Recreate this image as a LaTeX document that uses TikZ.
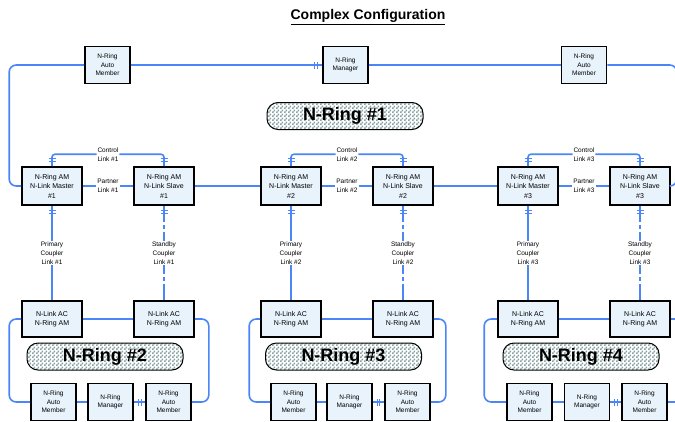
\documentclass[tikz,border=0pt]{standalone}
\usepackage{fontspec}
\setmainfont{Liberation Sans}
\usetikzlibrary{patterns}
\pgfdeclarepatternformonly{chk}{\pgfpointorigin}{\pgfqpoint{4pt}{4pt}}{\pgfqpoint{4pt}{4pt}}{%
  \pgfpathrectangle{\pgfpointorigin}{\pgfqpoint{2pt}{2pt}}%
  \pgfpathrectangle{\pgfqpoint{2pt}{2pt}}{\pgfqpoint{2pt}{2pt}}%
  \pgfusepath{fill}}
\definecolor{lnk}{HTML}{4A86F7}
\definecolor{boxfill}{HTML}{E8F3FC}
\definecolor{chkc}{HTML}{8AA2A2}
\tikzset{
  dev/.style={draw=black, line width=1.6pt, fill=boxfill, inner sep=0pt, align=center,
    font=\fontsize{6.5}{8.5}\selectfont},
  smallbox/.style={dev, minimum width=45pt, minimum height=37pt},
  ambox/.style={dev, minimum width=60pt, minimum height=38pt, font=\fontsize{7}{9.5}\selectfont},
  acbox/.style={dev, minimum width=60pt, minimum height=36pt, font=\fontsize{7}{9.5}\selectfont},
  pill/.style={draw=black, line width=1pt, rounded corners=11pt, minimum width=156pt,
    minimum height=27pt, preaction={fill=white}, pattern=chk, pattern color=chkc,
    font=\bfseries\fontsize{18}{18}\selectfont},
  lk/.style={draw=lnk, line width=1.6pt},
  sb/.style={lk, dash pattern=on 16pt off 3pt on 4pt off 3pt},
  lbl/.style={fill=white, inner sep=1pt, align=center, font=\fontsize{6.5}{9}\selectfont},
  tk/.style={draw=lnk, line width=1.1pt}
}
\begin{document}
\begin{tikzpicture}[x=1pt,y=-1pt]
\useasboundingbox (0,0) rectangle (675,421);
% title
\node[font=\bfseries\fontsize{14}{14}\selectfont] (title) at (368,17) {\underline{Complex Configuration}};
% top ring
\node[smallbox] (ta1) at (107.5,65) {N-Ring\\Auto\\Member};
\node[smallbox] (tm) at (345.5,65) {N-Ring\\Manager};
\node[smallbox] (ta2) at (584,65) {N-Ring\\Auto\\Member};
\node[pill] (p1) at (345,116) {N-Ring \#1};
% AM row
\node[ambox] (m1) at (52,186) {N-Ring AM\\N-Link Master\\\#1};
\node[ambox] (s1) at (164,186) {N-Ring AM\\N-Link Slave\\\#1};
\node[ambox] (m2) at (291,186) {N-Ring AM\\N-Link Master\\\#2};
\node[ambox] (s2) at (403,186) {N-Ring AM\\N-Link Slave\\\#2};
\node[ambox] (m3) at (528,186) {N-Ring AM\\N-Link Master\\\#3};
\node[ambox] (s3) at (640,186) {N-Ring AM\\N-Link Slave\\\#3};
% AC row
\node[acbox] (a1) at (52,319) {N-Link AC\\N-Ring AM};
\node[acbox] (b1) at (164,319) {N-Link AC\\N-Ring AM};
\node[acbox] (a2) at (291,319) {N-Link AC\\N-Ring AM};
\node[acbox] (b2) at (403,319) {N-Link AC\\N-Ring AM};
\node[acbox] (a3) at (528,319) {N-Link AC\\N-Ring AM};
\node[acbox] (b3) at (640,319) {N-Link AC\\N-Ring AM};
% pills
\node[pill] (p2) at (105,356.5) {N-Ring \#2};
\node[pill] (p3) at (343.5,356.5) {N-Ring \#3};
\node[pill] (p4) at (581,356.5) {N-Ring \#4};
% bottom rows
\node[smallbox] (x1) at (53.5,402) {N-Ring\\Auto\\Member};
\node[smallbox] (y1) at (110.5,402) {N-Ring\\Manager};
\node[smallbox] (z1) at (168.5,402) {N-Ring\\Auto\\Member};
\node[smallbox] (x2) at (293.5,402) {N-Ring\\Auto\\Member};
\node[smallbox] (y2) at (349.5,402) {N-Ring\\Manager};
\node[smallbox] (z2) at (407.5,402) {N-Ring\\Auto\\Member};
\node[smallbox] (x3) at (529.5,402) {N-Ring\\Auto\\Member};
\node[smallbox] (y3) at (587,402) {N-Ring\\Manager};
\node[smallbox] (z3) at (644.5,402) {N-Ring\\Auto\\Member};
\coordinate (e1) at (685,319);
\coordinate (e2) at (685,402);
% top ring connectors
\draw[lk, rounded corners=7pt] (m1.west) -- ++(-12,0) |- (ta1.west);
\draw[lk] (ta1.east) -- (tm.west);
\draw[lk] (tm.east) -- (ta2.west);
\draw[lk, rounded corners=7pt] (ta2.east) -| ([xshift=6pt]s3.east) -- (s3.east);
\draw[tk] ([xshift=-8pt,yshift=-3.5pt]tm.west) -- ++(0,7pt);
\draw[tk] ([xshift=-5pt,yshift=-3.5pt]tm.west) -- ++(0,7pt);
% partner links and inter-pair links
\draw[lk] (m1.east) -- node[lbl]{Partner\\Link \#1} (s1.west);
\draw[lk] (s1.east) -- (m2.west);
\draw[lk] (m2.east) -- node[lbl]{Partner\\Link \#2} (s2.west);
\draw[lk] (s2.east) -- (m3.west);
\draw[lk] (m3.east) -- node[lbl]{Partner\\Link \#3} (s3.west);
% control links
\draw[lk, rounded corners=3pt] (m1.north) -- ++(0,-12) -| node[pos=0.25,lbl]{Control\\Link \#1} (s1.north);
\draw[lk, rounded corners=3pt] (m2.north) -- ++(0,-12) -| node[pos=0.25,lbl]{Control\\Link \#2} (s2.north);
\draw[lk, rounded corners=3pt] (m3.north) -- ++(0,-12) -| node[pos=0.25,lbl]{Control\\Link \#3} (s3.north);
% coupler links
\draw[lk] (m1.south) -- node[lbl]{Primary\\Coupler\\Link \#1} (a1.north);
\draw[sb] (s1.south) -- node[lbl]{Standby\\Coupler\\Link \#1} (b1.north);
\draw[lk] (m2.south) -- node[lbl]{Primary\\Coupler\\Link \#2} (a2.north);
\draw[sb] (s2.south) -- node[lbl]{Standby\\Coupler\\Link \#2} (b2.north);
\draw[lk] (m3.south) -- node[lbl]{Primary\\Coupler\\Link \#3} (a3.north);
\draw[sb] (s3.south) -- node[lbl]{Standby\\Coupler\\Link \#3} (b3.north);
% ticks above and below AM boxes
\foreach \n in {m1,s1,m2,s2,m3,s3}{
  \draw[tk] ([xshift=-3.5pt,yshift=4.5pt]\n.north) -- ++(7pt,0);
  \draw[tk] ([xshift=-3.5pt,yshift=7.5pt]\n.north) -- ++(7pt,0);
  \draw[tk] ([xshift=-3.5pt,yshift=-4.5pt]\n.south) -- ++(7pt,0);
  \draw[tk] ([xshift=-3.5pt,yshift=-7.5pt]\n.south) -- ++(7pt,0);
}
% ring 2
\draw[lk, rounded corners=7pt] (a1.west) -- ++(-12,0) |- (x1.west);
\draw[lk] (a1.east) -- (b1.west);
\draw[lk, rounded corners=7pt] (b1.east) -- ++(14,0) |- (z1.east);
\draw[lk] (x1.east) -- (y1.west);
\draw[lk] (y1.east) -- (z1.west);
\draw[tk] ([xshift=5pt,yshift=-3.5pt]y1.east) -- ++(0,7pt);
\draw[tk] ([xshift=8pt,yshift=-3.5pt]y1.east) -- ++(0,7pt);
% ring 3
\draw[lk, rounded corners=7pt] (a2.west) -- ++(-11,0) |- (x2.west);
\draw[lk] (a2.east) -- (b2.west);
\draw[lk, rounded corners=7pt] (b2.east) -- ++(12,0) |- (z2.east);
\draw[lk] (x2.east) -- (y2.west);
\draw[lk] (y2.east) -- (z2.west);
\draw[tk] ([xshift=5pt,yshift=-3.5pt]y2.east) -- ++(0,7pt);
\draw[tk] ([xshift=7pt,yshift=-3.5pt]y2.east) -- ++(0,7pt);
% ring 4
\draw[lk, rounded corners=7pt] (a3.west) -- ++(-13,0) |- (x3.west);
\draw[lk] (a3.east) -- (b3.west);
\draw[lk] (b3.east) -- (e1);
\draw[lk] (x3.east) -- (y3.west);
\draw[lk] (y3.east) -- (z3.west);
\draw[lk] (z3.east) -- (e2);
\draw[tk] ([xshift=4.5pt,yshift=-3.5pt]y3.east) -- ++(0,7pt);
\draw[tk] ([xshift=7.5pt,yshift=-3.5pt]y3.east) -- ++(0,7pt);
\end{tikzpicture}
\end{document}
